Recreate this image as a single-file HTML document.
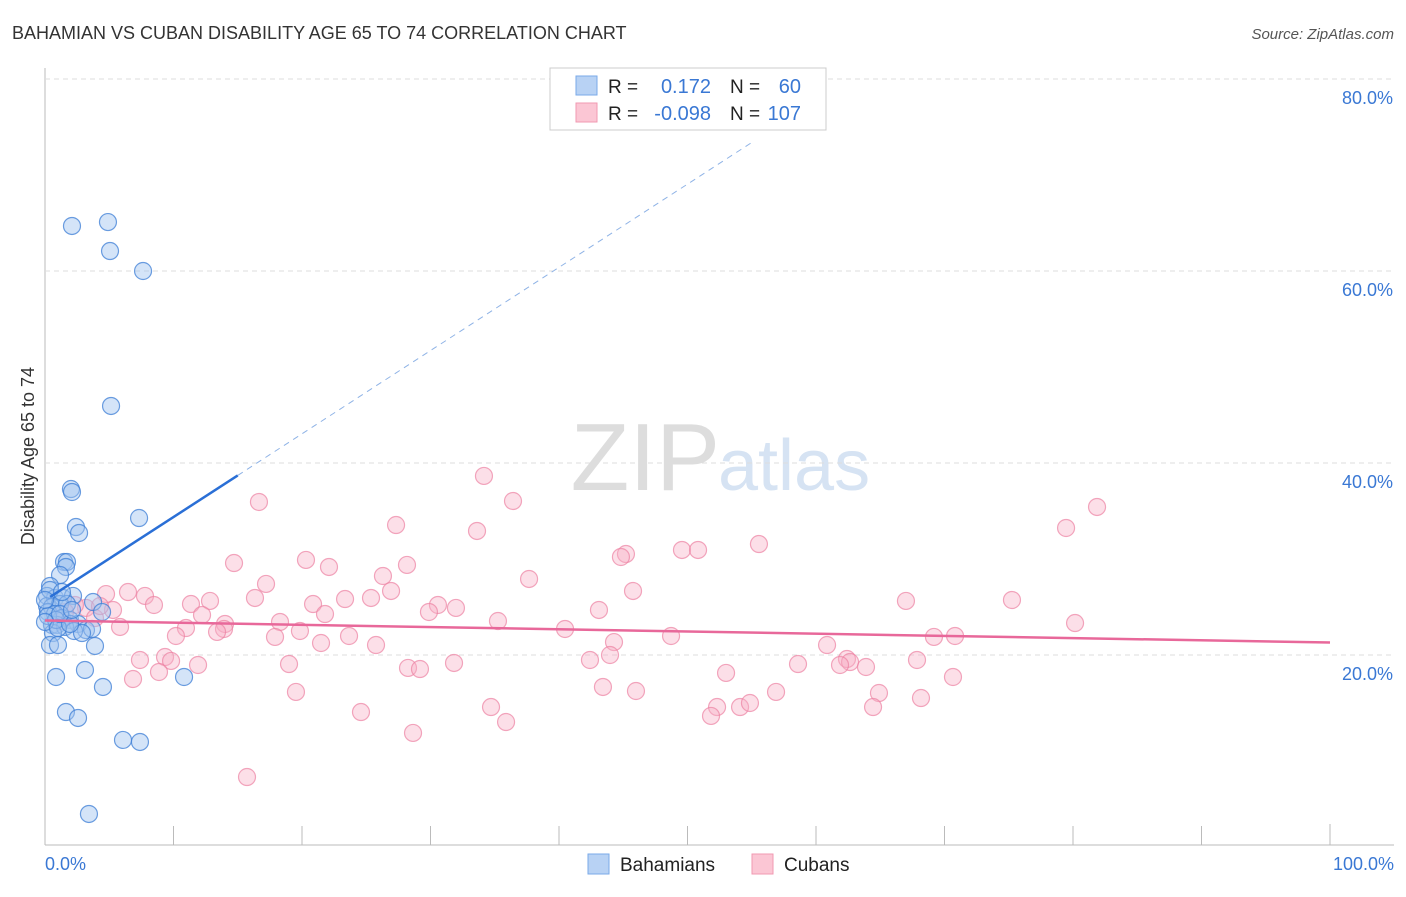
<!DOCTYPE html>
<html><head><meta charset="utf-8"><style>
body{margin:0;background:#fff;font-family:"Liberation Sans",sans-serif}
svg text{font-family:"Liberation Sans",sans-serif}
</style></head><body>
<svg id="c" width="1406" height="892">
<text x="12" y="39" font-size="18" fill="#333">BAHAMIAN VS CUBAN DISABILITY AGE 65 TO 74 CORRELATION CHART</text>
<text x="1394" y="39" font-size="15" fill="#555" font-style="italic" text-anchor="end">Source: ZipAtlas.com</text>
<text x="34" y="456" font-size="18" fill="#333" transform="rotate(-90 34 456)" text-anchor="middle">Disability Age 65 to 74</text>
<text x="720" y="490" font-size="96" fill="#ddd" text-anchor="end" font-family="Liberation Serif">ZIP</text>
<text x="718" y="490" font-size="72" fill="#d6e3f3">atlas</text>
<g id="grid"></g><g id="pts"></g><g id="lines"></g>
<g>
<rect x="550" y="68" width="276" height="62" fill="#fff" stroke="#ccc"/>
<rect x="576" y="76" width="21" height="19" fill="#b8d2f4" stroke="#7aaae8"/>
<rect x="576" y="103" width="21" height="19" fill="#fbc6d4" stroke="#f099b2"/>
<text x="608" y="93" font-size="19" fill="#222">R =</text><text x="711" y="93" font-size="20" fill="#3a78d4" text-anchor="end">0.172</text>
<text x="730" y="93" font-size="19" fill="#222">N =</text><text x="801" y="93" font-size="20" fill="#3a78d4" text-anchor="end">60</text>
<text x="608" y="120" font-size="19" fill="#222">R =</text><text x="711" y="120" font-size="20" fill="#3a78d4" text-anchor="end">-0.098</text>
<text x="730" y="120" font-size="19" fill="#222">N =</text><text x="801" y="120" font-size="20" fill="#3a78d4" text-anchor="end">107</text>
</g>
<g>
<rect x="588" y="854" width="21" height="20" fill="#b8d2f4" stroke="#7aaae8"/>
<text x="620" y="871" font-size="19" fill="#222">Bahamians</text>
<rect x="752" y="854" width="21" height="20" fill="#fbc6d4" stroke="#f099b2"/>
<text x="784" y="871" font-size="19" fill="#222">Cubans</text>
</g>
<text x="45" y="870" font-size="18" fill="#3a78d4">0.0%</text>
<text x="1394" y="870" font-size="18" fill="#3a78d4" text-anchor="end">100.0%</text>
</svg>
<script>
const bahamianPx=[[72,226],[108,222],[110,251],[143,271],[111,406],[71,489],[72,492],[139,518],[76,527],[79,533],[64,562],[67,562],[66,567],[60,575],[50,586],[47,596],[55,598],[63,598],[73,596],[93,602],[47,606],[52,607],[60,604],[67,604],[48,612],[55,614],[62,618],[70,620],[78,624],[86,630],[52,625],[57,625],[65,627],[74,631],[92,629],[82,633],[53,633],[50,645],[58,645],[95,646],[85,670],[56,677],[184,677],[103,687],[66,712],[78,718],[123,740],[140,742],[89,814],[102,612],[48,616],[56,620],[45,622],[58,628],[70,624],[50,590],[62,592],[45,600],[60,614],[72,610]];
const cubanPx=[[484,476],[513,501],[259,502],[1097,507],[396,525],[1066,528],[477,531],[759,544],[682,550],[698,550],[626,554],[621,557],[306,560],[234,563],[329,567],[407,565],[383,576],[529,579],[266,584],[391,591],[633,591],[128,592],[106,594],[145,596],[255,598],[210,601],[154,605],[191,604],[438,605],[313,604],[345,599],[371,598],[456,608],[429,612],[599,610],[906,601],[1012,600],[113,610],[86,608],[202,615],[325,614],[498,621],[280,622],[1075,623],[225,624],[61,621],[95,618],[120,627],[224,629],[186,628],[217,632],[275,637],[349,636],[300,631],[565,629],[176,636],[671,636],[376,645],[934,637],[955,636],[321,643],[614,642],[827,645],[610,655],[165,657],[140,660],[171,661],[454,663],[590,660],[917,660],[798,664],[847,659],[850,662],[289,664],[198,665],[408,668],[420,669],[866,667],[840,665],[159,672],[726,673],[953,677],[133,679],[603,687],[636,691],[296,692],[776,692],[879,693],[921,698],[491,707],[717,707],[740,707],[750,703],[873,707],[711,716],[361,712],[506,722],[413,733],[247,777],[100,606],[75,605],[65,612]];
// convert read pixel estimates into data values (% units)
const bahamianX=bahamianPx.map(p=>+((p[0]-45)/12.85).toFixed(2));
const bahamianY=bahamianPx.map(p=>+((847-p[1])/9.6).toFixed(2));
const cubanX=cubanPx.map(p=>+((p[0]-45)/12.85).toFixed(2));
const cubanY=cubanPx.map(p=>+((847-p[1])/9.6).toFixed(2));
const yTicks=[20,40,60,80];
const bahamianTrend=[25.7,0.867]; // intercept, slope
const cubanTrend=[23.6,-0.023];
const NS="http://www.w3.org/2000/svg";
const sx=v=>45+v*12.85, sy=v=>847-v*9.6;
function mk(t,a,p){const e=document.createElementNS(NS,t);for(const k in a)e.setAttribute(k,a[k]);p.appendChild(e);return e;}
const grid=document.getElementById('grid');
mk('line',{x1:45,y1:68,x2:45,y2:845,stroke:'#bbb'},grid);
mk('line',{x1:45,y1:845,x2:1394,y2:845,stroke:'#bbb'},grid);
for(let i=0;i<=10;i++){const l=mk('line',{x1:sx(i*10),y1:845,x2:sx(i*10),y2:i%10?826:824,stroke:'#bbb'},grid);}
yTicks.forEach(t=>{
const l=mk('line',{x1:45,y1:sy(t),x2:1394,y2:sy(t),stroke:'#ddd','stroke-dasharray':'5,4'},grid);


const tx=mk('text',{x:1393,y:sy(t)+25,'font-size':18,fill:'#3a78d4','text-anchor':'end'},grid);
tx.textContent=t.toFixed(1)+'%';


});
const pts=document.getElementById('pts');
cubanX.forEach((x,i)=>{const c=mk('circle',{cx:sx(x),cy:sy(cubanY[i]),r:8.5,fill:'rgba(248,176,198,0.4)',stroke:'rgba(236,130,162,0.7)','stroke-width':1.2},pts);

});
bahamianX.forEach((x,i)=>{const c=mk('circle',{cx:sx(x),cy:sy(bahamianY[i]),r:8.5,fill:'rgba(160,196,240,0.45)',stroke:'rgba(60,126,214,0.75)','stroke-width':1.2},pts);

});
const L=document.getElementById('lines');
let b=mk('line',{x1:sx(0.4),y1:sy(bahamianTrend[0]+bahamianTrend[1]*0.4),x2:sx(15),y2:sy(bahamianTrend[0]+bahamianTrend[1]*15),stroke:'#2a6fd6','stroke-width':2.5},L);


let bd=mk('line',{x1:sx(15),y1:sy(bahamianTrend[0]+bahamianTrend[1]*15),x2:sx(55),y2:sy(bahamianTrend[0]+bahamianTrend[1]*55),stroke:'#8fb3e6','stroke-width':1,'stroke-dasharray':'6,5'},L);


let cl=mk('line',{x1:sx(0),y1:sy(cubanTrend[0]),x2:sx(100),y2:sy(cubanTrend[0]+cubanTrend[1]*100),stroke:'#e8689a','stroke-width':2.5},L);


</script>
</body></html>
